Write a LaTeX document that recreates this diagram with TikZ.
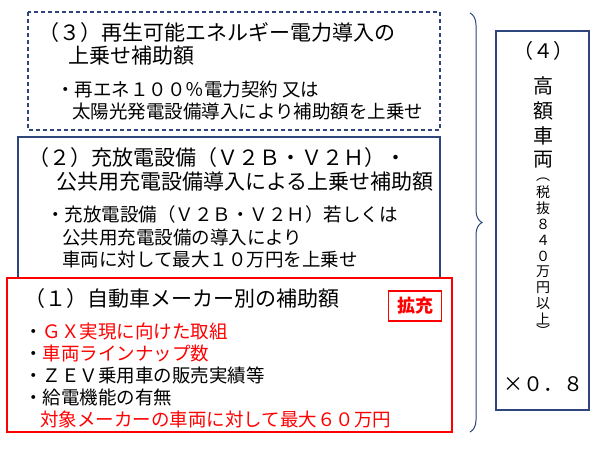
\documentclass[tikz,border=0pt]{standalone}
\usepackage{fontspec}
\setmainfont{Noto Sans CJK JP}
\usetikzlibrary{decorations.pathreplacing}
\definecolor{navy}{RGB}{47,69,125}
\definecolor{rd}{RGB}{255,0,0}
\begin{document}
\begin{tikzpicture}[x=1pt,y=-1pt,
  tt/.style={anchor=west,inner sep=0pt,font=\fontsize{21}{22}\selectfont},
  bd/.style={anchor=west,inner sep=0pt,font=\fontsize{18.5}{19}\selectfont},
  vt/.style={inner sep=0pt,font=\fontsize{20}{21}\selectfont},
  vs/.style={inner sep=0pt,font=\fontsize{14}{15}\selectfont}]
\useasboundingbox (0,0) rectangle (600,459);
\fill[white] (0,0) rectangle (600,459);
% box 3
\draw[navy,dash pattern=on 4pt off 3pt,line width=1.2pt] (28,12) rectangle (440,130);
\node[tt] (t3a) at (38,33) {（３）再生可能エネルギー電力導入の};
\node[tt] (t3b) at (68,56) {上乗せ補助額};
\node[bd] (t3c) at (56,89) {・再エネ１００％電力契約 又は};
\node[bd] (t3d) at (72,111) {太陽光発電設備導入により補助額を上乗せ};
% box 2
\draw[navy,line width=1.5pt] (18,278) -- (18,137) -- (440,137) -- (440,278);
\node[tt] (t2a) at (28,158) {（２）充放電設備（Ｖ２Ｂ・Ｖ２Ｈ）・};
\node[tt] (t2b) at (56,182) {公共用充電設備導入による上乗せ補助額};
\node[bd] (t2c) at (46,214) {・充放電設備（Ｖ２Ｂ・Ｖ２Ｈ）若しくは};
\node[bd] (t2d) at (62,237) {公共用充電設備の導入により};
\node[bd] (t2e) at (62,259) {車両に対して最大１０万円を上乗せ};
% box 1
\draw[rd,line width=2.5pt] (7,278) rectangle (452,432);
\node[draw=rd,line width=1.2pt,minimum width=53,minimum height=30,inner sep=0pt,font=\fontsize{18}{19}\selectfont\bfseries,text=rd] (kk) at (415,306) {拡充};
\node[tt] (t1a) at (24,299) {（１）自動車メーカー別の補助額};
\node[bd] (t1b) at (24,331) {・\textcolor{rd}{ＧＸ実現に向けた取組}};
\node[bd] (t1c) at (24,353) {・\textcolor{rd}{車両ラインナップ数}};
\node[bd] (t1d) at (24,375) {・ＺＥＶ乗用車の販売実績等};
\node[bd] (t1e) at (24,397) {・給電機能の有無};
\node[bd,text=rd] (t1f) at (40,419) {対象メーカーの車両に対して最大６０万円};
% brace
\draw[navy,line width=1pt,decoration={brace,amplitude=12pt,aspect=0.5},decorate] (470,13) -- (470,432);
% right box
\draw[navy,line width=1.5pt] (496,31) rectangle (589,410);
\node[vt] (p4) at (543,51) {（４）};
\node[vt] (v1) at (543,86) {高};
\node[vt] (v2) at (543,111) {額};
\node[vt] (v3) at (543,136) {車};
\node[vt] (v4) at (543,160) {両};
\node[vs] (s0) at (543,180) {︵};
\node[vs] (s1) at (543,192) {税};
\node[vs] (s2) at (543,208) {抜};
\node[vs] (s3) at (543,224) {８};
\node[vs] (s4) at (543,240) {４};
\node[vs] (s5) at (543,256) {０};
\node[vs] (s6) at (543,272) {万};
\node[vs] (s7) at (543,288) {円};
\node[vs] (s8) at (543,304) {以};
\node[vs] (s9) at (543,319) {上};
\node[vs] (s10) at (543,331) {︶};
\node[vt] (x8) at (543,384) {×０．８};
\end{tikzpicture}
\end{document}
